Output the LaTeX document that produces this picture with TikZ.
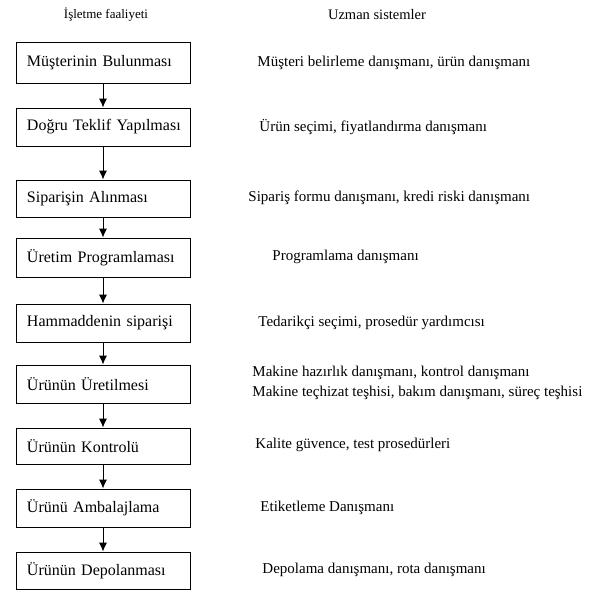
\documentclass[tikz,border=0pt]{standalone}
\usepackage{fontspec}
\setmainfont{Liberation Serif}
\usetikzlibrary{shapes,arrows,arrows.meta}

\begin{document}
\begin{tikzpicture}[x=1pt, y=-1pt, >={Latex[length=9pt,width=8pt]}, line width=0.9pt,
    every node/.style={font=\fontsize{15}{20}\selectfont},
    block/.style={draw, rectangle, minimum width=174pt, minimum height=38pt,
      text width=163pt, inner xsep=5.5pt, align=left,
      execute at begin node={\hspace*{5.5pt}},
      font=\fontsize{16}{18}\selectfont},
    expert/.style={anchor=west, inner sep=0pt, align=left}]
    \useasboundingbox (0,0) rectangle (595,592);
    % basliklar
    \node [font=\fontsize{13}{15}\selectfont] (head1) at (106,15) {İşletme faaliyeti};
    \node [font=\fontsize{14.5}{16}\selectfont] (head2) at (377,15) {Uzman sistemler};
    % isletme faaliyetleri
    \node [block, minimum height=41pt] (act1) at (103,62.5) {Müşterinin Bulunması};
    \node [block] (act2) at (103,127) {Doğru Teklif Yapılması};
    \node [block, minimum height=37pt] (act3) at (103,198.5) {Siparişin Alınması};
    \node [block, minimum height=39pt] (act4) at (103,257.5) {Üretim Programlaması};
    \node [block] (act5) at (103,323) {Hammaddenin siparişi};
    \node [block] (act6) at (103,384) {Ürünün Üretilmesi};
    \node [block, minimum height=36pt] (act7) at (103,446) {Ürünün Kontrolü};
    \node [block] (act8) at (103,508) {Ürünü Ambalajlama};
    \node [block, minimum height=37pt] (act9) at (103,570.5) {Ürünün Depolanması};
    \draw [->] (act1) -- (act2);
    \draw [->] (act2) -- (act3);
    \draw [->] (act3) -- (act4);
    \draw [->] (act4) -- (act5);
    \draw [->] (act5) -- (act6);
    \draw [->] (act6) -- (act7);
    \draw [->] (act7) -- (act8);
    \draw [->] (act8) -- (act9);
    % uzman sistemler
    \node [expert] (exp1) at (257,63) {Müşteri belirleme danışmanı, ürün danışmanı};
    \node [expert] (exp2) at (259,127) {Ürün seçimi, fiyatlandırma danışmanı};
    \node [expert] (exp3) at (248,198) {Sipariş formu danışmanı, kredi riski danışmanı};
    \node [expert] (exp4) at (272,257) {Programlama danışmanı};
    \node [expert] (exp5) at (258,323) {Tedarikçi seçimi, prosedür yardımcısı};
    \node [expert] (exp6) at (252,383) {Makine hazırlık danışmanı, kontrol danışmanı\\
      Makine teçhizat teşhisi, bakım danışmanı, süreç teşhisi};
    \node [expert] (exp7) at (255,445) {Kalite güvence, test prosedürleri};
    \node [expert] (exp8) at (260,508) {Etiketleme Danışmanı};
    \node [expert] (exp9) at (262,570) {Depolama danışmanı, rota danışmanı};
\end{tikzpicture}
\end{document}
